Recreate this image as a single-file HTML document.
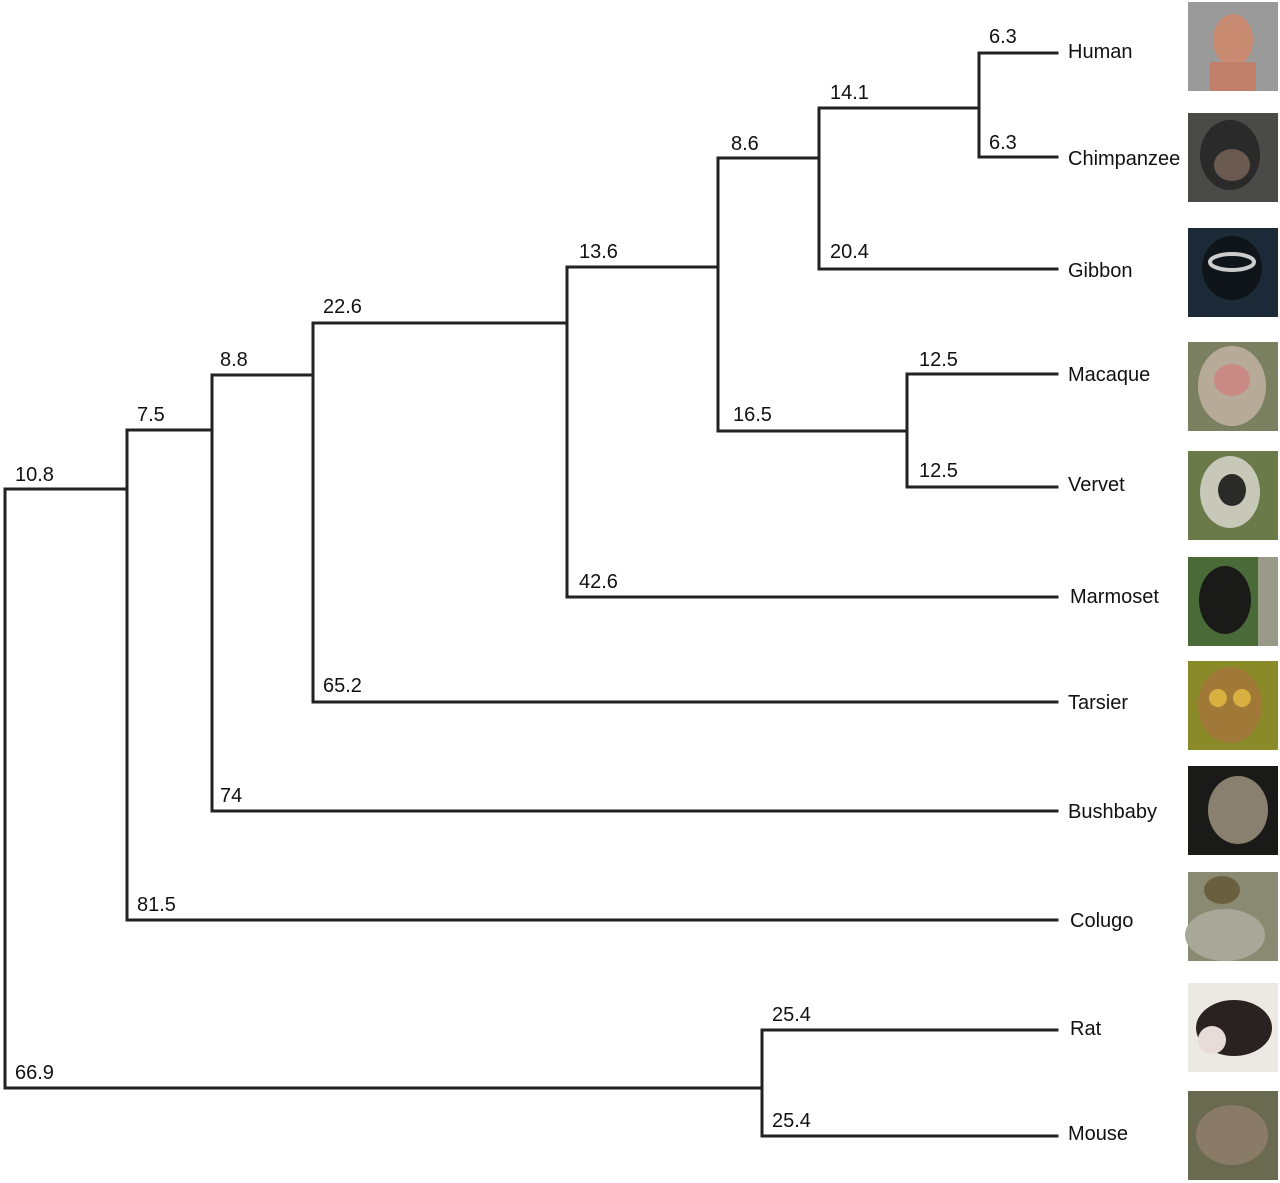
<!DOCTYPE html>
<html><head><meta charset="utf-8"><style>
html,body{margin:0;padding:0;background:#fff;}
svg{display:block;}
text{font-family:"Liberation Sans",Arial,sans-serif;fill:#111;}
</style></head><body>
<svg width="1280" height="1183" viewBox="0 0 1280 1183" xmlns="http://www.w3.org/2000/svg">
<g stroke="#222" stroke-width="3" fill="none" stroke-linecap="square">
<path d="M5 489 V1088 M5 489 H127 M5 1088 H762"/>
<path d="M127 430 V920 M127 430 H212 M127 920 H1057"/>
<path d="M212 375 V811 M212 375 H313 M212 811 H1057"/>
<path d="M313 323 V702 M313 323 H567 M313 702 H1057"/>
<path d="M567 267 V597 M567 267 H718 M567 597 H1057"/>
<path d="M718 158 V431 M718 158 H819 M718 431 H907"/>
<path d="M819 108 V269 M819 108 H979 M819 269 H1057"/>
<path d="M979 53 V157 M979 53 H1057 M979 157 H1057"/>
<path d="M907 374 V487 M907 374 H1057 M907 487 H1057"/>
<path d="M762 1030 V1136 M762 1030 H1057 M762 1136 H1057"/>
</g>
<g font-size="20">
<text x="15" y="481">10.8</text>
<text x="15" y="1079">66.9</text>
<text x="137" y="421">7.5</text>
<text x="137" y="911">81.5</text>
<text x="220" y="366">8.8</text>
<text x="220" y="802">74</text>
<text x="323" y="313">22.6</text>
<text x="323" y="692">65.2</text>
<text x="579" y="258">13.6</text>
<text x="579" y="588">42.6</text>
<text x="731" y="150">8.6</text>
<text x="733" y="421">16.5</text>
<text x="830" y="99">14.1</text>
<text x="830" y="258">20.4</text>
<text x="989" y="43">6.3</text>
<text x="989" y="149">6.3</text>
<text x="919" y="366">12.5</text>
<text x="919" y="477">12.5</text>
<text x="772" y="1021">25.4</text>
<text x="772" y="1127">25.4</text>
</g>
<g font-size="20">
<text x="1068" y="58">Human</text>
<text x="1068" y="165">Chimpanzee</text>
<text x="1068" y="277">Gibbon</text>
<text x="1068" y="381">Macaque</text>
<text x="1068" y="491">Vervet</text>
<text x="1070" y="603">Marmoset</text>
<text x="1068" y="709">Tarsier</text>
<text x="1068" y="818">Bushbaby</text>
<text x="1070" y="927">Colugo</text>
<text x="1070" y="1035">Rat</text>
<text x="1068" y="1140">Mouse</text>
</g>
<g>
<rect x="1188" y="2" width="90" height="89" fill="#9a9a9a"/>
<ellipse cx="1233" cy="40" rx="20" ry="26" fill="#c98a72"/>
<rect x="1210" y="62" width="46" height="29" fill="#c07f68"/>
<rect x="1188" y="113" width="90" height="89" fill="#4a4a48"/>
<ellipse cx="1230" cy="155" rx="30" ry="35" fill="#2a2a2a"/>
<ellipse cx="1232" cy="165" rx="18" ry="16" fill="#6a5a50"/>
<rect x="1188" y="228" width="90" height="89" fill="#1c2a38"/>
<ellipse cx="1232" cy="268" rx="30" ry="32" fill="#0f1418"/>
<ellipse cx="1232" cy="262" rx="22" ry="8" fill="none" stroke="#ccc" stroke-width="4"/>
<rect x="1188" y="342" width="90" height="89" fill="#7a8060"/>
<ellipse cx="1232" cy="386" rx="34" ry="40" fill="#b8aa98"/>
<ellipse cx="1232" cy="380" rx="18" ry="16" fill="#c98a84"/>
<rect x="1188" y="451" width="90" height="89" fill="#6a7a48"/>
<ellipse cx="1230" cy="492" rx="30" ry="36" fill="#c8c8b8"/>
<ellipse cx="1232" cy="490" rx="14" ry="16" fill="#2a2a28"/>
<rect x="1188" y="557" width="90" height="89" fill="#4a6a38"/>
<ellipse cx="1225" cy="600" rx="26" ry="34" fill="#1a1a18"/>
<rect x="1258" y="557" width="20" height="89" fill="#9a9a88"/>
<rect x="1188" y="661" width="90" height="89" fill="#8a8a28"/>
<ellipse cx="1230" cy="705" rx="32" ry="38" fill="#a07838"/>
<circle cx="1218" cy="698" r="9" fill="#d8b040"/><circle cx="1242" cy="698" r="9" fill="#d8b040"/>
<rect x="1188" y="766" width="90" height="89" fill="#1a1a18"/>
<ellipse cx="1238" cy="810" rx="30" ry="34" fill="#8a8070"/>
<rect x="1188" y="872" width="90" height="89" fill="#8a8a72"/>
<ellipse cx="1225" cy="935" rx="40" ry="26" fill="#a8a898"/>
<ellipse cx="1222" cy="890" rx="18" ry="14" fill="#6a6040"/>
<rect x="1188" y="983" width="90" height="89" fill="#ece8e4"/>
<ellipse cx="1234" cy="1028" rx="38" ry="28" fill="#2a2220"/>
<ellipse cx="1212" cy="1040" rx="14" ry="14" fill="#e8dcd8"/>
<rect x="1188" y="1091" width="90" height="89" fill="#6a6a50"/>
<ellipse cx="1232" cy="1135" rx="36" ry="30" fill="#8a7a68"/>
</g>
</svg>
</body></html>
